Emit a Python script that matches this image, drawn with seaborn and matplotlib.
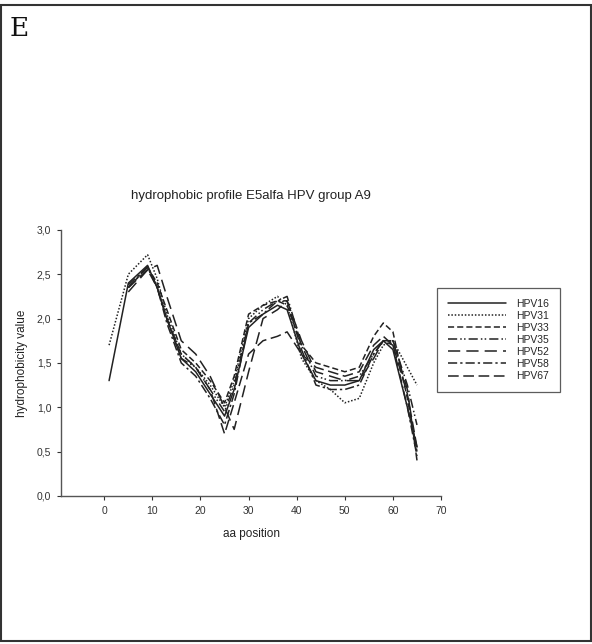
import numpy as np
import pandas as pd
import matplotlib
matplotlib.use("Agg")
import matplotlib.pyplot as plt
import seaborn as sns

# aa positions (window centres)
aa_pos = [1, 5, 9, 11, 13, 16, 19, 22, 25, 27, 30, 33, 36, 38, 41, 44, 47, 50, 53, 56, 58, 60, 63, 65]
nan = np.nan
hpv16 = [1.30, 2.40, 2.60, 2.35, 2.00, 1.55, 1.40, 1.15, 0.90, 1.20, 1.90, 2.05, 2.15, 2.10, 1.60, 1.30, 1.25, 1.25, 1.30, 1.65, 1.75, 1.65, 1.00, 0.55]
hpv31 = [1.70, 2.50, 2.72, 2.45, 2.05, 1.60, 1.45, 1.25, 1.00, 1.30, 2.00, 2.15, 2.25, 2.15, 1.55, 1.30, 1.20, 1.05, 1.10, 1.50, 1.70, 1.75, 1.45, 1.25]
hpv33 = [nan, 2.35, 2.58, 2.40, 2.10, 1.65, 1.50, 1.30, 1.05, 1.35, 2.05, 2.15, 2.20, 2.15, 1.70, 1.50, 1.45, 1.40, 1.45, 1.80, 1.95, 1.85, 1.10, 0.50]
hpv35 = [nan, 2.35, 2.58, 2.35, 2.00, 1.55, 1.45, 1.20, 0.95, 1.25, 1.95, 2.10, 2.20, 2.25, 1.70, 1.35, 1.30, 1.30, 1.35, 1.60, 1.75, 1.75, 1.25, 0.80]
hpv52 = [nan, 2.30, 2.55, 2.60, 2.25, 1.75, 1.60, 1.35, 1.00, 0.75, 1.40, 2.00, 2.10, 2.20, 1.75, 1.40, 1.35, 1.30, 1.30, 1.55, 1.75, 1.75, 1.20, 0.40]
hpv58 = [nan, 2.38, 2.58, 2.35, 1.95, 1.50, 1.35, 1.10, 0.80, 1.15, 1.95, 2.05, 2.20, 2.20, 1.65, 1.25, 1.20, 1.20, 1.25, 1.60, 1.75, 1.70, 1.00, 0.45]
hpv67 = [nan, 2.35, 2.55, 2.35, 2.00, 1.60, 1.45, 1.20, 0.70, 1.05, 1.60, 1.75, 1.80, 1.85, 1.60, 1.45, 1.40, 1.35, 1.40, 1.70, 1.80, 1.70, 1.15, 0.55]

series = {"HPV16": hpv16, "HPV31": hpv31, "HPV33": hpv33, "HPV35": hpv35,
          "HPV52": hpv52, "HPV58": hpv58, "HPV67": hpv67}
y_ticks = [0.0, 0.5, 1.0, 1.5, 2.0, 2.5, 3.0]
x_ticks = [0, 10, 20, 30, 40, 50, 60, 70]

rows = []
for name, vals in series.items():
    for x, v in zip(aa_pos, vals):
        if not np.isnan(v):
            rows.append({"aa position": x, "hydrophobicity value": v, "type": name})
df = pd.DataFrame(rows)

sns.set_style("white")
plt.rcParams["font.family"] = ["Liberation Sans", "DejaVu Sans"]

dash_map = {"HPV16": "", "HPV31": (1, 1.2), "HPV33": (4, 2), "HPV35": (6, 2, 1, 1.5, 1, 2),
            "HPV52": (8, 4), "HPV58": (6, 2, 1.5, 2), "HPV67": (7, 3)}

fig = plt.figure(figsize=(5.92, 6.44), dpi=100)
ax = fig.add_axes([0.103, 0.230, 0.642, 0.413])
sns.lineplot(data=df, x="aa position", y="hydrophobicity value", hue="type", style="type",
             dashes=dash_map, palette=["#222222"] * 7, linewidth=1.1, ax=ax, legend=True)

ax.set_xlim(-9, 70)
ax.set_ylim(0, 3.0)
ax.set_xticks(x_ticks)
ax.set_yticks(y_ticks)
ax.set_yticklabels([f"{t:.1f}".replace(".", ",") for t in y_ticks])
ax.tick_params(axis="both", labelsize=7.5, direction="out", length=3, width=0.8,
               left=True, bottom=True, colors="#333333", pad=4)
for s in ["top", "right"]:
    ax.spines[s].set_visible(False)
for s in ["left", "bottom"]:
    ax.spines[s].set_color("#555555")
    ax.spines[s].set_linewidth(1.0)
ax.set_xlabel("aa position", fontsize=8.5, color="#222222", labelpad=9)
ax.set_ylabel("hydrophobicity value", fontsize=8.5, color="#222222", labelpad=6)
ax.set_title("hydrophobic profile E5alfa HPV group A9", fontsize=9.5, color="#222222", pad=22)

leg = ax.legend(loc="upper left", bbox_to_anchor=(0.976, 0.80), fontsize=7.5, frameon=True,
                fancybox=False, edgecolor="#333333", handlelength=5.6, labelspacing=0.2,
                borderpad=1.0, handletextpad=1.0, title=None)
leg.get_frame().set_linewidth(0.9)

fig.text(0.017, 0.955, "E", fontsize=19, family="DejaVu Serif", va="center", ha="left", color="#111111")
fig.patches.append(plt.Rectangle((0.002, 0.004), 0.996, 0.988, transform=fig.transFigure,
                                 fill=False, edgecolor="#333333", linewidth=1.5))

fig.savefig("out.png", dpi=100)
